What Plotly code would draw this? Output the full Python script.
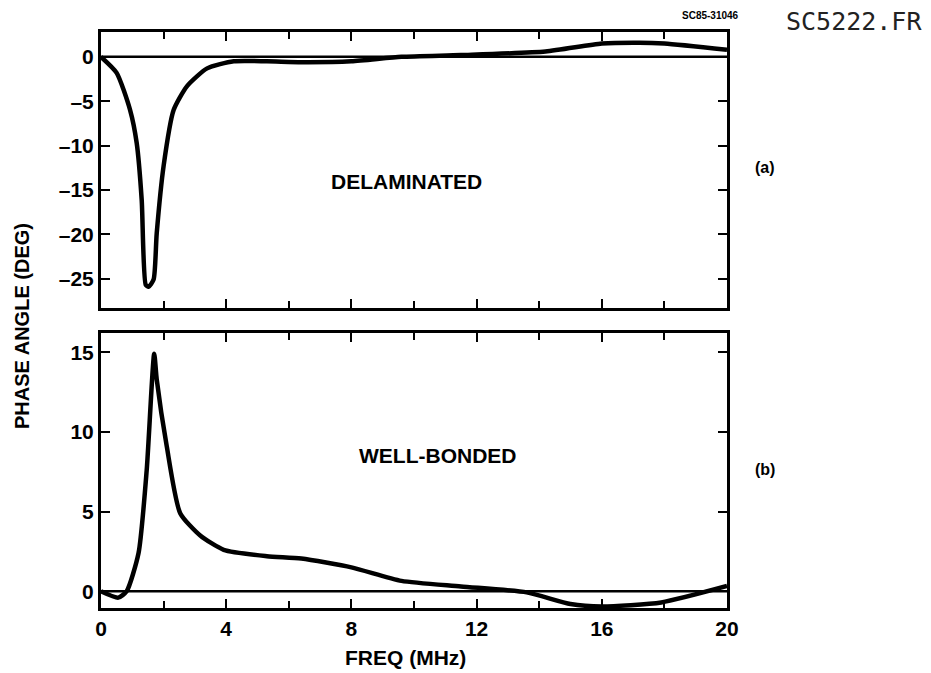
import plotly.graph_objects as go
from plotly.subplots import make_subplots

# Phase angle vs frequency, delaminated sample (panel a)
freq_a = [0.0, 0.5, 0.93, 1.14, 1.3, 1.43, 1.52, 1.68, 1.78, 2.0, 2.32, 2.75, 3.39, 4.24,
          5.3, 6.4, 8.0, 9.6, 11.5, 14.2, 16.0, 17.2, 18.0, 20.0]
phase_a = [0.0, -1.8, -6.0, -9.7, -16.1, -25.7, -25.9, -25.1, -19.9, -12.3, -6.0, -3.3, -1.3, -0.5,
           -0.5, -0.6, -0.5, 0.0, 0.2, 0.6, 1.5, 1.6, 1.5, 0.8]

# Phase angle vs frequency, well-bonded sample (panel b)
freq_b = [0.0, 0.55, 0.82, 1.2, 1.46, 1.7, 1.78, 2.1, 2.53, 3.17, 3.92, 5.3, 6.4, 8.0,
          9.6, 11.5, 13.6, 15.0, 16.0, 17.9, 20.0]
phase_b = [0.0, -0.4, 0.0, 2.4, 7.6, 14.9, 13.3, 9.1, 4.9, 3.5, 2.6, 2.2, 2.05, 1.5,
           0.65, 0.3, -0.07, -0.8, -0.95, -0.7, 0.33]

x_ticks = [0, 4, 8, 12, 16, 20]
x_ticktext = ["0", "4", "8", "12", "16", "20"]
ya_ticks = [0, -5, -10, -15, -20, -25]
ya_ticktext = ["0", "\u20135", "\u201310", "\u201315", "\u201320", "\u201325"]
yb_ticks = [0, 5, 10, 15]
yb_ticktext = ["0", "5", "10", "15"]

FONT = "Liberation Sans, Arial, sans-serif"

W, H = 931, 673
ML, MR, MT, MB = 101, 204, 32, 65
PW, PH = W - ML - MR, H - MT - MB


def bold(labels):
    return ["<b>%s</b>" % s for s in labels]


fig = make_subplots(rows=2, cols=1, shared_xaxes=False, vertical_spacing=0.04)

line_style = dict(color="black", width=4.5, shape="spline", smoothing=0.6)
fig.add_trace(go.Scatter(x=freq_a, y=phase_a, mode="lines", line=line_style,
                         showlegend=False), row=1, col=1)
fig.add_trace(go.Scatter(x=freq_b, y=phase_b, mode="lines", line=line_style,
                         showlegend=False), row=2, col=1)

# zero reference lines
for r in (1, 2):
    fig.add_trace(go.Scatter(x=[0, 20], y=[0, 0], mode="lines",
                             line=dict(color="black", width=2.5), showlegend=False),
                  row=r, col=1)

axis_common = dict(
    showline=True, linecolor="black", linewidth=3, mirror="ticks",
    ticks="inside", ticklen=9, tickwidth=2, tickcolor="black",
    showgrid=False, zeroline=False,
    tickfont=dict(family=FONT, size=21, color="black"),
)

fig.update_xaxes(**axis_common, range=[0, 20], tickvals=x_ticks, ticktext=bold(x_ticktext),
                 minor=dict(dtick=2, tick0=0, ticks="inside", ticklen=7, tickwidth=2,
                            tickcolor="black"))
fig.update_xaxes(showticklabels=False, row=1, col=1)
fig.update_xaxes(domain=[0, 1])

fig.update_yaxes(**axis_common)
fig.update_yaxes(range=[-28.3, 2.8], tickvals=ya_ticks, ticktext=bold(ya_ticktext),
                 domain=[0.5208, 1.0], row=1, col=1)
fig.update_yaxes(range=[-1.05, 16.2], tickvals=yb_ticks, ticktext=bold(yb_ticktext),
                 domain=[0.0, 0.4774], row=2, col=1)

label_font = dict(family=FONT, size=20, color="black")


def pixel_note(text, px, py, font, angle=0):
    """Add a label at page pixel coordinates."""
    fig.add_annotation(text=text, xref="paper", yref="paper",
                       x=(px - ML) / PW, y=1 - (py - MT) / PH,
                       xanchor="center", yanchor="middle", textangle=angle,
                       showarrow=False, font=font)


fig.add_annotation(text="<b>DELAMINATED</b>", x=9.75, y=-14.0, xref="x", yref="y",
                   showarrow=False, font=dict(family=FONT, size=21, color="black"))
fig.add_annotation(text="<b>WELL-BONDED</b>", x=10.75, y=8.5, xref="x2", yref="y2",
                   showarrow=False, font=dict(family=FONT, size=21, color="black"))

pixel_note("<b>(a)</b>", 765, 167, dict(family=FONT, size=16, color="black"))
pixel_note("<b>(b)</b>", 765, 469, dict(family=FONT, size=16, color="black"))
pixel_note("<b>PHASE ANGLE (DEG)</b>", 22, 326, label_font, angle=-90)
pixel_note("<b>FREQ (MHz)</b>", 405, 657, dict(family=FONT, size=21, color="black"))
pixel_note("<b>SC85-31046</b>", 710, 15, dict(family=FONT, size=10, color="black"))
pixel_note("SC5222.FR", 854, 22,
           dict(family="DejaVu Sans Mono, Liberation Mono, monospace", size=25, color="#222"))

fig.update_layout(
    width=W, height=H,
    margin=dict(l=ML, r=MR, t=MT, b=MB),
    paper_bgcolor="white", plot_bgcolor="white",
)

fig.write_html("out.html")
